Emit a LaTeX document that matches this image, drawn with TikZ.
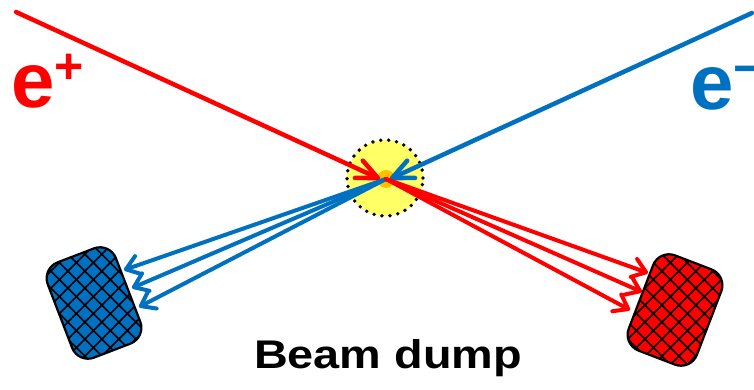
\documentclass[tikz,border=0pt]{standalone}
\usepackage{fontspec}
\setmainfont{Liberation Sans}
\usepackage{tikz}
\usetikzlibrary{arrows.meta,patterns.meta}
\definecolor{posred}{HTML}{FF0000}
\definecolor{elecblue}{HTML}{0070C0}
\definecolor{spotyellow}{HTML}{FFFF66}
\definecolor{coreorange}{HTML}{FFC000}

\begin{document}
\begin{tikzpicture}[x=1pt,y=1pt]
  \tikzset{beamline/.style={line width=4.5pt,line cap=round,-{Straight Barb[length=21pt,width=19pt,round]}}}
  \tikzset{spraylink/.style={line width=4pt,line cap=round,-{Straight Barb[length=13pt,width=19pt,round]}}}
  \tikzset{dumpbox/.style={draw=black,line width=2.2pt,rounded corners=17pt,minimum width=73pt,minimum height=102pt,
      inner sep=0pt,pattern={Hatch[angle=45,distance=12pt,line width=1.6pt]},pattern color=black}}
  \tikzset{particle/.style={font=\bfseries\fontsize{78}{78}\selectfont,inner sep=0pt,anchor=base west}}
  \useasboundingbox (0,0) rectangle (754,390);
  % interaction point
  \node[circle,fill=spotyellow,draw=black,line width=3.8pt,dash pattern=on 0pt off 8pt,line cap=round,
    minimum size=76pt,inner sep=0pt] (spot) at (385,212) {};
  \node[circle,fill=coreorange,minimum size=18pt,inner sep=0pt] (core) at (386,211) {};
  % beam dumps
  \node[dumpbox,rotate=21,preaction={fill=elecblue}] (dumpL) at (94,87) {};
  \node[dumpbox,rotate=-21,preaction={fill=posred}] (dumpR) at (675,80) {};
  % labels
  \node[particle,text=posred] (eplus) at (11,282) {e\raisebox{24pt}{\fontsize{50}{50}\selectfont +}};
  \node[particle,text=elecblue] (eminus) at (690,280) {e\raisebox{24pt}{\fontsize{50}{50}\selectfont \textminus}};
  \node[font=\bfseries\fontsize{40}{40}\selectfont,inner sep=0pt,anchor=base] (dumplabel) at (388,21)
    {\scalebox{1.17}[1]{Beam dump}};
  % incoming beams
  \coordinate (pstart) at (16,378);
  \coordinate (ptip) at (380,211);
  \coordinate (estart) at (752,377);
  \coordinate (etip) at (390,211);
  \draw[beamline,posred] (pstart) -- (ptip);
  \draw[beamline,elecblue] (estart) -- (etip);
  % outgoing sprays
  \coordinate (bl1) at (124,120);
  \coordinate (bl2) at (132,102);
  \coordinate (bl3) at (139,83);
  \coordinate (rl1) at (648,117);
  \coordinate (rl2) at (642,98);
  \coordinate (rl3) at (630,80);
  \foreach \t in {bl1,bl2,bl3}
    \draw[spraylink,elecblue] (core.center) -- (\t);
  \foreach \t in {rl1,rl2,rl3}
    \draw[spraylink,posred] (core.center) -- (\t);
\end{tikzpicture}
\end{document}
